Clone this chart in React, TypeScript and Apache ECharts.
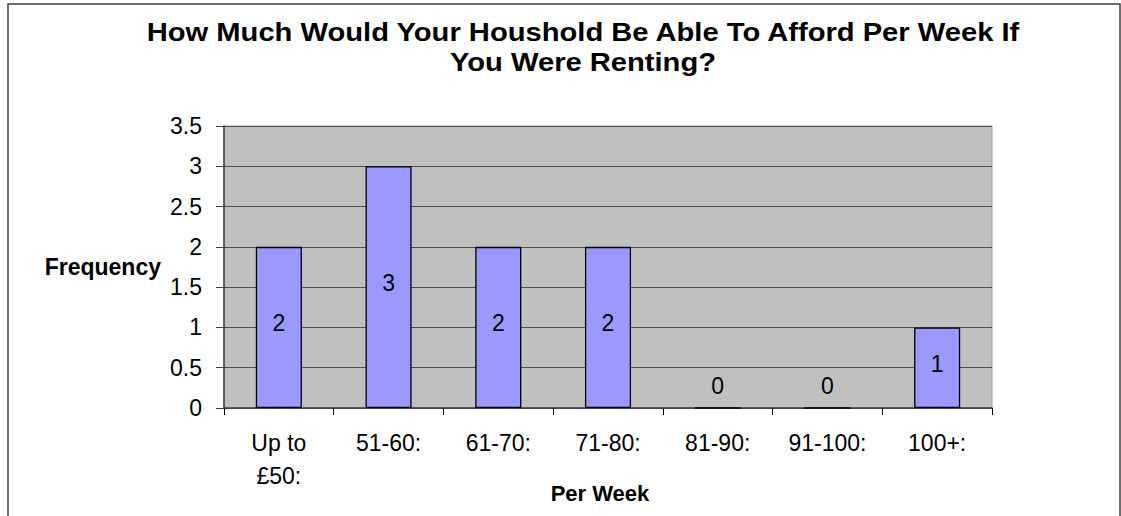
import React, { useEffect, useRef } from "react";
import * as echarts from "echarts";

const titleLines = [
  "How Much Would Your Houshold Be Able To Afford Per Week If",
  "You Were Renting?",
];
const categories = ["Up to\n£50:", "51-60:", "61-70:", "71-80:", "81-90:", "91-100:", "100+:"];
const frequency = [2, 3, 2, 2, 0, 0, 1];
const yAxisName = "Frequency";
const xAxisName = "Per Week";

const FONT = "'Liberation Sans', Arial, Helvetica, sans-serif";

export default function App() {
  const ref = useRef<HTMLDivElement>(null);

  useEffect(() => {
    if (!ref.current) return;
    const chart = echarts.init(ref.current, null, { renderer: "svg" });
    const data = frequency.map((v) =>
      v === 0 ? { value: v, label: { offset: [0, -22] } } : { value: v }
    );
    chart.setOption({
      animation: false,
      backgroundColor: "#ffffff",
      textStyle: { fontFamily: FONT, color: "#000" },
      graphic: [
        {
          type: "rect",
          silent: true,
          z: -1,
          shape: { x: 8, y: 4, width: 1112, height: 600 },
          style: { fill: "none", stroke: "#404040", lineWidth: 1.5 },
        },
        {
          type: "text",
          silent: true,
          x: 583,
          y: 17,
          scaleX: 1.1,
          style: {
            text: titleLines.join("\n"),
            textAlign: "center",
            textVerticalAlign: "top",
            fontFamily: FONT,
            fontSize: 26.5,
            fontWeight: "bold",
            lineHeight: 30,
            fill: "#000",
          },
        },
      ],
      grid: {
        left: 224,
        top: 126,
        right: 129,
        bottom: 108,
        outerBoundsMode: "none",
        containLabel: false,
        show: true,
        backgroundColor: "#C0C0C0",
        borderColor: "#9a9a9a",
        borderWidth: 1,
      },
      xAxis: {
        type: "category",
        data: categories,
        name: xAxisName,
        nameLocation: "middle",
        nameGap: 74,
        nameMoveOverlap: false,
        nameTextStyle: {
          fontFamily: FONT,
          fontSize: 22,
          fontWeight: "bold",
          color: "#000",
          padding: [0, 16, 0, 0],
        },
        axisLine: { show: true, lineStyle: { color: "#404040", width: 1.5 } },
        axisTick: { show: true, alignWithLabel: false, length: 7, lineStyle: { color: "#000", width: 1 } },
        axisLabel: {
          interval: 0,
          margin: 18,
          fontSize: 23,
          lineHeight: 33,
          verticalAlign: "top",
          color: "#000",
          fontFamily: FONT,
        },
        splitLine: { show: false },
      },
      yAxis: {
        type: "value",
        min: 0,
        max: 3.5,
        interval: 0.5,
        name: yAxisName,
        nameLocation: "middle",
        nameRotate: 0,
        nameGap: 63,
        nameMoveOverlap: false,
        nameTextStyle: {
          fontFamily: FONT,
          fontSize: 23,
          fontWeight: "bold",
          color: "#000",
        },
        axisLine: { show: true, lineStyle: { color: "#404040", width: 1.5 } },
        axisTick: { show: true, length: 8, lineStyle: { color: "#404040", width: 1 } },
        axisLabel: { margin: 22, fontSize: 23, color: "#000", fontFamily: FONT },
        splitLine: { show: true, lineStyle: { color: "#505050", width: 1.2 } },
      },
      series: [
        {
          type: "bar",
          data,
          barWidth: "42%",
          itemStyle: { color: "#9999FF", borderColor: "#000", borderWidth: 1.3 },
          label: {
            show: true,
            position: "inside",
            offset: [0, -4],
            fontSize: 23,
            color: "#000",
            fontFamily: FONT,
          },
        },
      ],
    });
    return () => chart.dispose();
  }, []);

  return (
    <div
      ref={ref}
      style={{ position: "fixed", left: 0, top: 0, width: 1121, height: 516 }}
    />
  );
}
